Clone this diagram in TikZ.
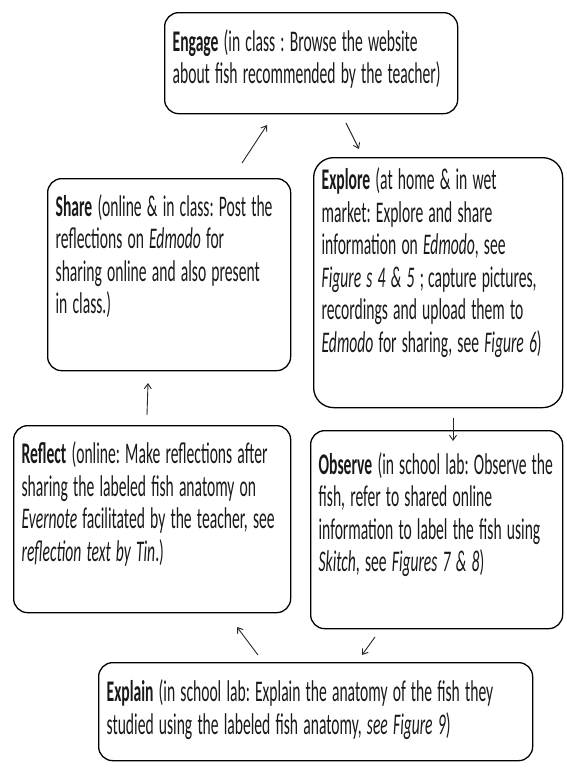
\documentclass[tikz,border=0pt]{standalone}
\usepackage{fontspec}
\usepackage{graphicx}
\setmainfont{Carlito}
\usetikzlibrary{arrows.meta}
\newcommand{\sqz}[1]{\scalebox{0.52}[1]{\frenchspacing\begin{tabular}{@{}l@{}}#1\end{tabular}}}
\newcommand{\upshift}[1]{\par\vspace{#1pt}}
\begin{document}
\begin{tikzpicture}[x=1pt,y=-1pt,
  box/.style={draw=black, line width=1.3pt, rounded corners=14pt, anchor=north west,
    align=left, inner xsep=8pt, inner ysep=0pt, text=black!90,
    font=\fontsize{30}{32.5}\selectfont},
  arr/.style={-{Straight Barb[length=5pt,width=7pt]}, line width=0.9pt, black!85}]
\useasboundingbox (0,0) rectangle (567,769);
\node[box, minimum width=293pt, minimum height=101pt, text width=277pt] (engage) at (164,12)
  {\sqz{\textbf{Engage} (in class : Browse the website\\about fish recommended by the teacher)}\upshift{4}};
\node[box, minimum width=243pt, minimum height=192pt, text width=227pt] (share) at (47,178)
  {\sqz{\textbf{Share} (online \& in class: Post the\\reflections on \textit{Edmodo} for\\sharing online and also present\\in class.)}\upshift{32}};
\node[box, minimum width=249pt, minimum height=250pt, text width=233pt, rounded corners=20pt] (explore) at (313,157)
  {\sqz{\textbf{Explore} (at home \& in wet\\market: Explore and share\\information on \textit{Edmodo}, see\\\textit{Figure s 4 \& 5} ;\hspace{8pt}capture pictures,\\recordings and upload them to\\\textit{Edmodo} for sharing, see \textit{Figure 6})}\upshift{36}};
\node[box, minimum width=277pt, minimum height=187pt, text width=261pt] (reflect) at (13,425)
  {\sqz{\textbf{Reflect} (online: Make reflections after\\sharing the labeled fish anatomy on\\\textit{Evernote} facilitated by the teacher, see\\\textit{reflection text by Tin}.)}\upshift{26}};
\node[box, minimum width=252pt, minimum height=198pt, text width=236pt] (observe) at (310,430)
  {\sqz{\textbf{Observe} (in school lab: Observe the\\fish, refer to shared online\\information to label the fish using\\\textit{Skitch}, see \textit{Figures 7 \& 8})}\upshift{26}};
\node[box, minimum width=434pt, minimum height=98pt, text width=418pt] (explain) at (98,662)
  {\sqz{\textbf{Explain} (in school lab: Explain the anatomy of the fish they\\studied using the labeled fish anatomy, \textit{see Figure 9})}};
\coordinate (a1s) at (242,163); \coordinate (a1e) at (267,125);
\coordinate (a2s) at (346,123); \coordinate (a2e) at (359,149);
\coordinate (a3s) at (453,418); \coordinate (a3e) at (453,441);
\coordinate (a4s) at (375,637); \coordinate (a4e) at (362,655);
\coordinate (a5s) at (258,655); \coordinate (a5e) at (237,627);
\coordinate (a6s) at (147,415); \coordinate (a6e) at (148,383);
\draw[arr] (a1s) -- (a1e);
\draw[arr] (a2s) -- (a2e);
\draw[arr] (a3s) -- (a3e);
\draw[arr] (a4s) -- (a4e);
\draw[arr] (a5s) -- (a5e);
\draw[arr] (a6s) -- (a6e);
\end{tikzpicture}
\end{document}
